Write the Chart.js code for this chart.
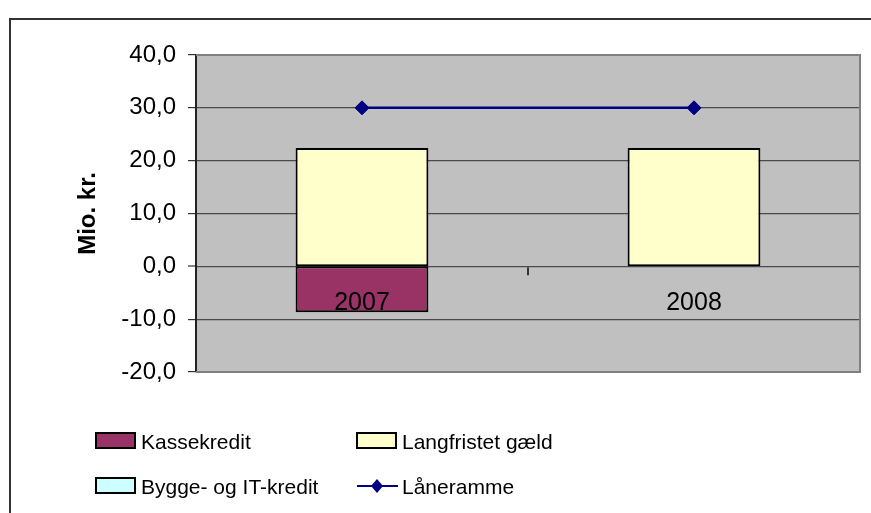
<!DOCTYPE html>
<html>
<head>
<meta charset="utf-8">
<script src="https://cdn.jsdelivr.net/npm/chart.js@4/dist/chart.umd.min.js"></script>
<style>
  html, body { margin: 0; padding: 0; background: #fff; overflow: hidden; }
  #wrap { position: relative; width: 871px; height: 513px; }
</style>
</head>
<body>
<div id="wrap"><canvas id="chart" width="871" height="513"></canvas></div>
<script>
// --- data ---
const years = ['2007', '2008'];
const kassekredit = [-8.7, 0];
const langfristet = [22.4, 22.4];
const byggeIT = [0, 0];
const laaneramme = [30, 30];
const yMin = -20;
const yMax = 40;
const yStep = 10;

const FONT = "Arial, 'Liberation Sans', sans-serif";
const GRID = '#4a4a4a';

// grey plot area + frame, outer chart border
const plotFrame = {
    id: 'plotFrame',
    beforeDraw(chart) {
        const { ctx, chartArea: a } = chart;
        ctx.save();
        ctx.fillStyle = '#C0C0C0';
        ctx.fillRect(a.left, a.top, a.right - a.left, a.bottom - a.top);
        // outer border (only top + left are inside the picture)
        ctx.strokeStyle = '#333';
        ctx.lineWidth = 2;
        ctx.beginPath();
        ctx.moveTo(10, 513);
        ctx.lineTo(10, 19);
        ctx.lineTo(871, 19);
        ctx.stroke();
        ctx.restore();
    },
    afterDraw(chart) {
        const { ctx, chartArea: a } = chart;
        ctx.save();
        ctx.strokeStyle = '#808080';
        ctx.lineWidth = 2;
        ctx.beginPath();
        ctx.moveTo(a.left, a.top);
        ctx.lineTo(a.right, a.top);
        ctx.lineTo(a.right, a.bottom);
        ctx.lineTo(a.left, a.bottom);
        ctx.stroke();
        ctx.restore();
    }
};

// legend in two columns, like the original
const legendSpots = [
    { x: 96, y: 433 },
    { x: 357, y: 433 },
    { x: 96, y: 478 },
    { x: 357, y: 478 }
];

const gridLegend = {
    id: 'gridLegend',
    afterDraw(chart) {
        const ctx = chart.ctx;
        ctx.save();
        chart.data.datasets.forEach((ds, i) => {
            const p = legendSpots[i];
            if (!p) return;
            if (ds.type === 'line') {
                const cy = p.y + 8;
                ctx.strokeStyle = ds.borderColor;
                ctx.lineWidth = 2;
                ctx.beginPath();
                ctx.moveTo(p.x, cy);
                ctx.lineTo(p.x + 41, cy);
                ctx.stroke();
                ctx.fillStyle = ds.pointBackgroundColor;
                ctx.beginPath();
                ctx.moveTo(p.x + 20, cy - 7);
                ctx.lineTo(p.x + 26, cy);
                ctx.lineTo(p.x + 20, cy + 7);
                ctx.lineTo(p.x + 14, cy);
                ctx.closePath();
                ctx.fill();
            } else {
                ctx.fillStyle = ds.backgroundColor;
                ctx.fillRect(p.x, p.y, 39, 15);
                ctx.strokeStyle = '#000';
                ctx.lineWidth = 2;
                ctx.strokeRect(p.x, p.y, 39, 15);
            }
            ctx.fillStyle = '#000';
            ctx.font = '21px ' + FONT;
            ctx.textBaseline = 'alphabetic';
            ctx.textAlign = 'left';
            ctx.fillText(ds.label, p.x + 45, p.y + 16);
        });
        ctx.restore();
    }
};

const ctx = document.getElementById('chart').getContext('2d');

const chart = new Chart(ctx, {
    data: {
        labels: years,
        datasets: [
            {
                type: 'bar',
                label: 'Kassekredit',
                data: kassekredit,
                backgroundColor: '#993366',
                borderColor: '#000',
                borderWidth: 2,
                borderSkipped: false,
                inflateAmount: 0
            },
            {
                type: 'bar',
                label: 'Langfristet gæld',
                data: langfristet,
                backgroundColor: '#FFFFCC',
                borderColor: '#000',
                borderWidth: 2,
                borderSkipped: false,
                inflateAmount: 0
            },
            {
                type: 'bar',
                label: 'Bygge- og IT-kredit',
                data: byggeIT,
                backgroundColor: '#CCFFFF',
                borderColor: '#000',
                borderWidth: 2,
                borderSkipped: false,
                inflateAmount: 0
            },
            {
                type: 'line',
                label: 'Låneramme',
                data: laaneramme,
                stack: 'ramme',
                borderColor: '#000080',
                borderWidth: 2.5,
                pointStyle: 'rectRot',
                pointRadius: 7,
                pointBackgroundColor: '#000080',
                pointBorderColor: '#000080',
                pointBorderWidth: 1
            }
        ]
    },
    options: {
        responsive: false,
        animation: false,
        layout: { padding: { left: 0, top: 55, right: 11, bottom: 141 } },
        datasets: {
            bar: { barPercentage: 0.4, categoryPercentage: 1.0 }
        },
        plugins: {
            legend: { display: false },
            tooltip: { enabled: false }
        },
        scales: {
            x: {
                type: 'category',
                stacked: true,
                offset: true,
                position: { y: 0 },
                // the zero line comes from the x axis border so bars meet without a gap
                border: { display: true, color: GRID, width: 1.2 },
                grid: {
                    offset: true,
                    drawOnChartArea: false,
                    drawTicks: true,
                    tickLength: 8,
                    color: '#333',
                    lineWidth: 2
                },
                ticks: {
                    z: 1, // year labels sit on top of the bars
                    color: '#000',
                    font: { family: FONT, size: 25 },
                    padding: 14,
                    maxRotation: 0
                }
            },
            y: {
                stacked: true,
                min: yMin,
                max: yMax,
                afterFit(scale) { scale.width = 196; },
                border: { display: true, color: '#222', width: 2 },
                grid: {
                    color: GRID,
                    lineWidth: (c) => (c.tick && c.tick.value === 0 ? 0 : 1.2),
                    tickWidth: 1.2,
                    tickColor: '#333',
                    tickLength: 8
                },
                ticks: {
                    stepSize: yStep,
                    color: '#000',
                    font: { family: FONT, size: 24 },
                    padding: 12,
                    callback: (v) => v.toFixed(1).replace('.', ',')
                },
                title: {
                    display: true,
                    text: 'Mio. kr.',
                    color: '#000',
                    font: { family: FONT, size: 24, weight: 'bold' },
                    padding: { top: 74, bottom: 0 }
                }
            }
        }
    },
    plugins: [plotFrame, gridLegend]
});
</script>
</body>
</html>
